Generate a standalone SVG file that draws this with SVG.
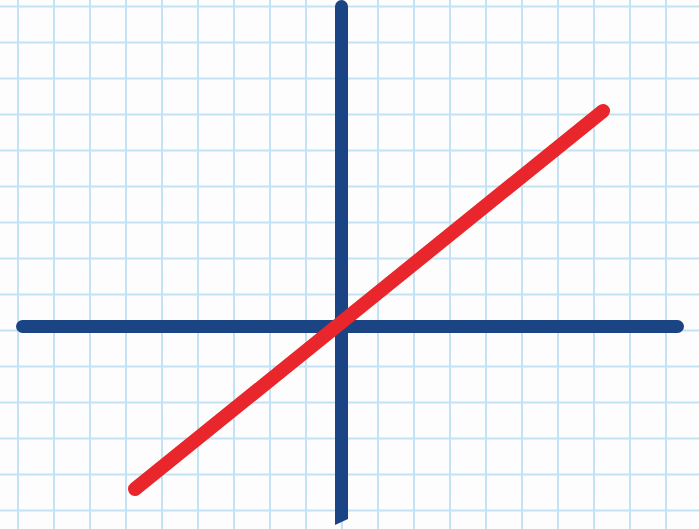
<svg xmlns="http://www.w3.org/2000/svg" width="699" height="529" viewBox="0 0 699 529">
<defs>
<style>
.grid line{stroke:#c3e2f3;stroke-width:2}
.axis{stroke:#1a4483;stroke-width:13;stroke-linecap:round;fill:none}
.line{stroke:#e8262b;stroke-width:14;stroke-linecap:round;fill:none}
</style>
<pattern id="g" x="0" y="0" width="36" height="36" patternUnits="userSpaceOnUse">
</pattern>
</defs>
<rect width="699" height="529" fill="#fdfdfd"/>
<g class="grid">
<line x1="18" y1="0" x2="18" y2="529"/><line x1="54" y1="0" x2="54" y2="529"/><line x1="90" y1="0" x2="90" y2="529"/><line x1="126" y1="0" x2="126" y2="529"/><line x1="162" y1="0" x2="162" y2="529"/><line x1="198" y1="0" x2="198" y2="529"/><line x1="234" y1="0" x2="234" y2="529"/><line x1="270" y1="0" x2="270" y2="529"/><line x1="306" y1="0" x2="306" y2="529"/><line x1="342" y1="0" x2="342" y2="529"/><line x1="378" y1="0" x2="378" y2="529"/><line x1="414" y1="0" x2="414" y2="529"/><line x1="450" y1="0" x2="450" y2="529"/><line x1="486" y1="0" x2="486" y2="529"/><line x1="522" y1="0" x2="522" y2="529"/><line x1="558" y1="0" x2="558" y2="529"/><line x1="594" y1="0" x2="594" y2="529"/><line x1="630" y1="0" x2="630" y2="529"/><line x1="666" y1="0" x2="666" y2="529"/>
<line x1="0" y1="6.5" x2="699" y2="6.5"/><line x1="0" y1="42.5" x2="699" y2="42.5"/><line x1="0" y1="78.5" x2="699" y2="78.5"/><line x1="0" y1="114.5" x2="699" y2="114.5"/><line x1="0" y1="150.5" x2="699" y2="150.5"/><line x1="0" y1="186.5" x2="699" y2="186.5"/><line x1="0" y1="222.5" x2="699" y2="222.5"/><line x1="0" y1="258.5" x2="699" y2="258.5"/><line x1="0" y1="294.5" x2="699" y2="294.5"/><line x1="0" y1="330.5" x2="699" y2="330.5"/><line x1="0" y1="366.5" x2="699" y2="366.5"/><line x1="0" y1="402.5" x2="699" y2="402.5"/><line x1="0" y1="438.5" x2="699" y2="438.5"/><line x1="0" y1="474.5" x2="699" y2="474.5"/><line x1="0" y1="510.5" x2="699" y2="510.5"/>
</g>
<g id="axes">
<line class="axis" x1="22.5" y1="326.5" x2="677.5" y2="326.5"/>
<path d="M335,6.5 A6.5,6.5 0 0 1 348,6.5 L348,519 L335,525 Z" fill="#1a4483"/>
</g>
<g id="graph">
<line class="line" x1="135" y1="489" x2="603" y2="111"/>
</g>
</svg>
